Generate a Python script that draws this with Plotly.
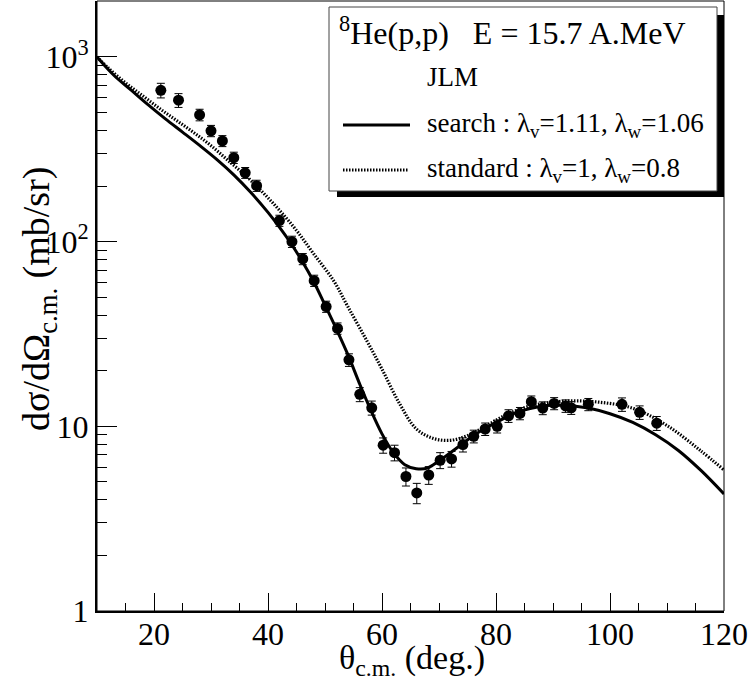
import plotly.graph_objects as go

# ---------------- data ----------------
theta_exp = [21.2, 24.3, 28.0, 30.0, 32.0, 34.0, 36.0, 38.0, 42.0, 44.2, 46.1, 48.1,
             50.2, 52.2, 54.2, 56.1, 58.2, 60.2, 62.2, 64.2, 66.1, 68.2, 70.2, 72.2,
             74.2, 76.1, 78.1, 80.2, 82.2, 84.2, 86.2, 88.2, 90.2, 92.2, 93.2, 96.2,
             102.1, 105.2, 108.2]
sigma_exp = [660, 583, 486, 398, 351, 285, 236, 201, 130, 100, 80.6, 61.5,
             44.5, 33.9, 22.9, 14.9, 12.6, 7.9, 7.2, 5.35, 4.36, 5.45, 6.55, 6.66,
             7.96, 8.83, 9.67, 10.0, 11.4, 11.75, 13.6, 12.56, 13.3, 12.9, 12.6, 13.15,
             13.15, 11.9, 10.4]
sigma_err = [60, 50, 35, 28, 24, 20, 16, 14, 9, 7, 5.6, 4.3,
             3.1, 2.4, 1.8, 1.3, 1.1, 0.75, 0.7, 0.6, 0.55, 0.6, 0.65, 0.65,
             0.7, 0.7, 0.75, 0.8, 0.9, 0.9, 1.0, 1.0, 1.0, 1.0, 1.0, 1.0,
             1.1, 1.0, 0.9]

theta_search = [10, 13, 16, 19, 22, 25, 28, 31, 34, 37, 40, 42, 44, 46, 48, 50, 52, 54,
                56, 58, 60, 62, 64, 66, 68, 70, 72, 74, 76, 78, 80, 82, 84, 86, 88, 90,
                92, 94, 96, 100, 104, 108, 112, 116, 120]
sigma_search = [1000, 794, 661, 550, 462, 392, 332, 279, 230, 184.5, 144, 119.7, 98, 78.3,
                60.8, 45.3, 33.6, 24.5, 17.2, 12.3, 9.1, 7.2, 6.2, 5.9, 5.95, 6.5, 7.2, 8.0,
                8.9, 9.7, 10.5, 11.3, 12.0, 12.5, 12.85, 13.0, 13.0, 12.85, 12.6, 11.7, 10.5,
                9.0, 7.4, 5.75, 4.3]

theta_std = [10, 12, 15, 18, 21, 24, 27, 30, 33, 36, 39, 42, 45, 48, 51.5, 54, 57.3, 60, 63,
             66, 69, 72, 75, 78.4, 82.2, 86.5, 92.4, 98.2, 104.1, 110, 115.8, 120]
sigma_std = [1000, 871, 724, 617, 525, 452, 389, 331, 275, 229, 186, 148, 115, 86, 61.5, 44.5,
             29.2, 20.4, 13.4, 9.7, 8.6, 8.4, 8.9, 10.1, 11.7, 13.0, 13.7, 13.5, 12.5, 10.1,
             7.42, 5.8]

y_major = [1, 10, 100, 1000]
y_major_text = ["1", "10", "10<sup>2</sup>", "10<sup>3</sup>"]
y_minor = [2, 3, 4, 5, 6, 7, 8, 9, 20, 30, 40, 50, 60, 70, 80, 90,
           200, 300, 400, 500, 600, 700, 800, 900]

legend_title = "<sup>8</sup>He(p,p)\u00a0\u00a0\u00a0E = 15.7 A.MeV"
legend_sub = "JLM"
name_search = "search : λ<sub>v</sub>=1.11, λ<sub>w</sub>=1.06"
name_std = "standard : λ<sub>v</sub>=1, λ<sub>w</sub>=0.8"

# ---------------- layout geometry ----------------
W, H = 752, 682
L, R, T, B = 97, 28, 1, 71
PW, PH = W - L - R, H - T - B
FONT = "Liberation Serif"


def px(x):
    return (x - L) / PW


def py(y):
    return (H - B - y) / PH


fig = go.Figure()

fig.add_trace(go.Scatter(x=theta_std, y=sigma_std, mode="lines", line_shape="spline",
                         line=dict(color="black", width=3.2, dash="1.5px,1.5px"),
                         showlegend=False, hoverinfo="skip"))
fig.add_trace(go.Scatter(x=theta_search, y=sigma_search, mode="lines", line_shape="spline",
                         line=dict(color="black", width=3), showlegend=False, hoverinfo="skip"))
fig.add_trace(go.Scatter(x=theta_exp, y=sigma_exp, mode="markers",
                         marker=dict(color="black", size=11, symbol="circle"),
                         error_y=dict(type="data", array=sigma_err, visible=True,
                                      thickness=1, width=4, color="black"),
                         showlegend=False))

shapes = []
shapes.append(dict(type="rect", xref="paper", yref="paper", x0=0, x1=1, y0=0, y1=1,
                   line=dict(color="black", width=1)))
shapes.append(dict(type="rect", xref="paper", yref="paper", x0=px(337), x1=px(724),
                   y0=py(197), y1=py(15), fillcolor="black", line=dict(width=0)))
shapes.append(dict(type="rect", xref="paper", yref="paper", x0=px(329), x1=px(717),
                   y0=py(191), y1=py(7), fillcolor="white",
                   line=dict(color="#444", width=1)))
shapes.append(dict(type="line", xref="paper", yref="paper", x0=px(343), x1=px(410),
                   y0=py(125), y1=py(125), line=dict(color="black", width=3)))
shapes.append(dict(type="line", xref="paper", yref="paper", x0=px(343), x1=px(408),
                   y0=py(170), y1=py(170),
                   line=dict(color="black", width=3.2, dash="1.5px,1.5px")))

ann = []
ann.append(dict(text=legend_title, x=px(337), y=py(31), xref="paper", yref="paper",
                xanchor="left", yanchor="middle", showarrow=False,
                font=dict(family=FONT, size=32, color="black")))
for txt, xx, yy in [(legend_sub, 425, 77), (name_search, 425, 125), (name_std, 425, 170)]:
    ann.append(dict(text=txt, x=px(xx), y=py(yy), xref="paper", yref="paper",
                    xanchor="left", yanchor="middle", showarrow=False,
                    font=dict(family=FONT, size=27, color="black")))
ann.append(dict(text="θ<sub>c.m.</sub> (deg.)", x=px(412), y=py(660), xref="paper",
                yref="paper", xanchor="center", yanchor="middle", showarrow=False,
                font=dict(family=FONT, size=34, color="black")))
ann.append(dict(text="dσ/dΩ<sub>c.m.</sub> (mb/sr)", x=px(39), y=py(299), xref="paper",
                yref="paper", xanchor="center", yanchor="middle", showarrow=False,
                textangle=-90, font=dict(family=FONT, size=38, color="black")))

fig.update_layout(
    width=W, height=H,
    margin=dict(l=L, r=R, t=T, b=B, autoexpand=False),
    paper_bgcolor="white", plot_bgcolor="white",
    font=dict(family=FONT, color="black"),
    shapes=shapes, annotations=ann,
    showlegend=False,
)
fig.update_xaxes(range=[10, 120], showgrid=False, zeroline=False,
                 showline=True, linecolor="black", linewidth=2,
                 ticks="inside", ticklen=18, tickwidth=1, tickcolor="black",
                 tickmode="linear", tick0=0, dtick=20, ticklabelstandoff=-6,
                 tickfont=dict(family=FONT, size=32, color="black"),
                 minor=dict(ticks="inside", ticklen=8, tickwidth=1, tickcolor="black",
                            dtick=5, tick0=0, showgrid=False))
fig.update_yaxes(type="log", range=[0, 3.303], showgrid=False, zeroline=False,
                 showline=True, linecolor="black", linewidth=2,
                 ticks="inside", ticklen=20, tickwidth=1, tickcolor="black",
                 tickmode="array", tickvals=y_major, ticktext=y_major_text,
                 tickfont=dict(family=FONT, size=32, color="black"),
                 minor=dict(ticks="inside", ticklen=10, tickwidth=1, tickcolor="black",
                            tickmode="array", tickvals=y_minor, showgrid=False))

fig.write_html("out.html", post_script="document.body.style.margin='0';",
               config={"displayModeBar": False})
